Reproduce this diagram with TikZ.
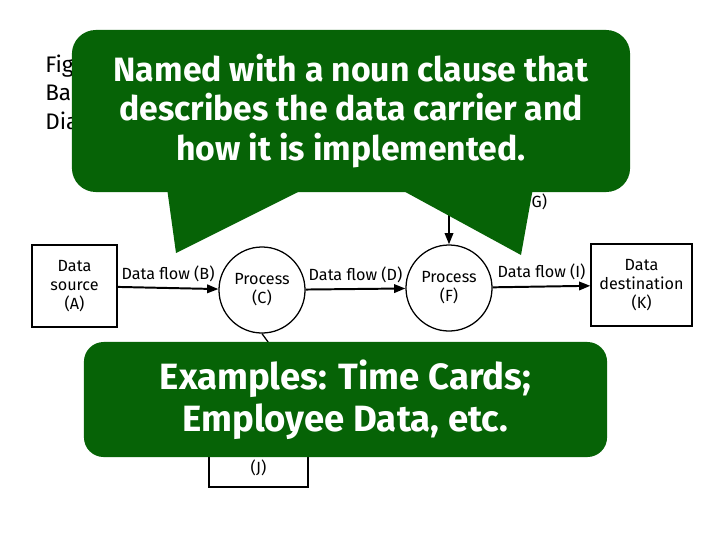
\documentclass[tikz,border=0pt]{standalone}
\usepackage{fontspec}
\setmainfont{Fira Sans}
\usetikzlibrary{arrows.meta, positioning, calc}
\definecolor{NoteGreen}{HTML}{066306}
\newcommand{\lblfont}{\fontsize{11.5}{13.5}\selectfont}
\newcommand{\notefont}{\fontsize{24}{28}\selectfont\bfseries}
\tikzset{
  store/.style={rectangle, draw, line width=0.9pt, align=center, font=\lblfont, inner sep=2pt},
  proc/.style={circle, draw, line width=0.9pt, minimum size=2.15cm, align=center, font=\lblfont, inner sep=0pt},
  flow/.style={-{Triangle[length=8pt,width=6pt]}, line width=1.4pt},
  lbl/.style={font=\lblfont, inner sep=1pt},
  note/.style={rectangle, rounded corners=17pt, fill=NoteGreen, text=white, align=center, font=\notefont},
}
\begin{document}
\begin{tikzpicture}[x=0.025cm, y=-0.025cm]
\useasboundingbox (0,0) rectangle (720,540);

% caption, mostly covered by the note
\node[anchor=base west, align=left, font=\fontsize{16}{20}\selectfont, inner sep=0pt] (cap) at (45,129) {Fig\\Ba\\Dia};

% diagram
\node[store, minimum width=2.125cm, minimum height=2.05cm] (src) at (74.5,286) {Data\\source\\(A)};
\node[proc] (pc) at (262,290) {Process\\(C)};
\node[proc] (pf) at (449,288) {Process\\(F)};
\node[store, minimum width=2.525cm, minimum height=2.05cm] (dst) at (641.5,285) {Data\\destination\\(K)};
\node[store, minimum width=2.475cm, minimum height=2.8cm] (jbox) at (258.5,431) {};
\node[lbl, above=7pt of jbox.south] (jlbl) {(J)};
\coordinate (gin) at (449,196);

\draw[flow] (src) -- node[lbl, above=3pt] {Data flow (B)} (pc);
\draw[flow] (pc) -- node[lbl, above=3pt] {Data flow (D)} (pf);
\draw[flow] (pf) -- node[lbl, above=3pt] {Data flow (I)} (dst);
\draw[flow] (gin) -- (pf);
\node[lbl, anchor=west] (glbl) at (530,202) {G)};
\draw[line width=0.9pt] (pc.south) -- ($(jbox.north)!0.66!(jbox.north east)$);

% notes on top
\node[note, minimum width=13.95cm, minimum height=4.05cm] (topnote) at (351,111)
  {Named with a noun clause that\\describes the data carrier and\\how it is implemented.};
\fill[NoteGreen] (167,188) -- (176,253) -- (306,188) -- cycle;
\fill[NoteGreen] (398,188) -- (521,255) -- (533,188) -- cycle;
\node[note, rounded corners=14pt, font=\fontsize{26}{30}\selectfont\bfseries, minimum width=13.075cm, minimum height=2.875cm] (botnote) at (345.5,399.5)
  {Examples: Time Cards;\\Employee Data, etc.};

\end{tikzpicture}
\end{document}
